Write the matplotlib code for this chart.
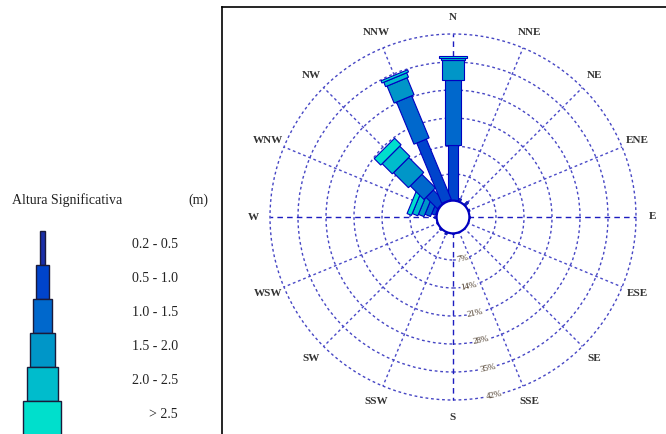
import matplotlib
matplotlib.use("Agg")
import matplotlib.pyplot as plt
import numpy as np
from matplotlib.patches import Circle, Polygon, Rectangle

# --- data (percent of occurrence per direction and wave height class) ---
directions = ['N', 'NNE', 'NE', 'ENE', 'E', 'ESE', 'SE', 'SSE',
              'S', 'SSW', 'SW', 'WSW', 'W', 'WNW', 'NW', 'NNW']
classes = ['0.2 - 0.5', '0.5 - 1.0', '1.0 - 1.5', '1.5 - 2.0', '2.0 - 2.5', '> 2.5']

h_02_05 = [0.5, 1.2, 1.5, 0.8, 0.4, 0.3, 0.3, 0.5, 0.6, 1.0, 0.8, 0.6, 0.9, 0.5, 0.5, 0.5]
h_05_10 = [13.8, 0, 0, 0, 0, 0, 0, 0, 0, 0, 0, 0, 0, 1.0, 4.0, 16.3]
h_10_15 = [16.2, 0, 0, 0, 0, 0, 0, 0, 0, 0, 0, 0, 0, 1.5, 4.8, 11.4]
h_15_20 = [5.0, 0, 0, 0, 0, 0, 0, 0, 0, 0, 0, 0, 0, 1.5, 5.3, 4.6]
h_20_25 = [0.6, 0, 0, 0, 0, 0, 0, 0, 0, 0, 0, 0, 0, 1.5, 3.6, 1.2]
h_gt_25 = [0.4, 0, 0, 0, 0, 0, 0, 0, 0, 0, 0, 0, 0, 1.2, 2.3, 0.6]
freqs = [h_02_05, h_05_10, h_10_15, h_15_20, h_20_25, h_gt_25]

rings = [7, 14, 21, 28, 35, 42]
ring_labels = ['7%', '14%', '21%', '28%', '35%', '42%']

colors = ['#1a2fa8', '#0044cc', '#0068cc', '#0096c8', '#00bccc', '#00dfcc']
bar_widths = [0.6, 2.6, 4.1, 5.4, 6.2, 7.2]      # rose bar widths (data units)
leg_widths = [5, 13, 19, 25, 31, 38]             # legend block widths (px)

HOLE = 3.75   # radius of the calm circle
PX = 4.0      # pixels per percent

fig = plt.figure(figsize=(6.66, 4.34), dpi=100, facecolor='white')

# legend area (pixel coordinates)
lax = fig.add_axes([0, 0, 1, 1])
lax.set_xlim(0, 666)
lax.set_ylim(434, 0)
lax.axis('off')

lax.text(12, 200, 'Altura Significativa', fontsize=10, family='Liberation Serif',
         color='#222222', va='center', ha='left')
lax.text(188, 200, '(m)', fontsize=10, family='Liberation Serif',
         color='#222222', va='center', ha='left')
for k, lab in enumerate(classes):
    top = 231 + 34 * k
    w = leg_widths[k]
    lax.add_patch(Rectangle((42 - w / 2, top), w, 34 if k < 5 else 40,
                            facecolor=colors[k], edgecolor='#1a1a3a', lw=1))
    lax.text(178, top + 13, lab, fontsize=10, family='Liberation Serif',
             color='#222222', va='center', ha='right')

# rose area
cx, cy = 453, 217
ax = fig.add_axes([222 / 666, -2 / 434, 446 / 666, 429 / 434])
ax.set_xlim((222 - cx) / PX, (668 - cx) / PX)
ax.set_ylim((-2 - cy) / PX, (427 - cy) / PX)
ax.set_xticks([])
ax.set_yticks([])
for s in ['right', 'bottom']:
    ax.spines[s].set_visible(False)
for s in ['left', 'top']:
    ax.spines[s].set_linewidth(1.2)

for p in rings:
    ax.add_patch(Circle((0, 0), HOLE + p, fill=False, ls=(0, (2, 2)),
                        color='#4646c4', lw=1.0, zorder=1))

theta = np.deg2rad(np.arange(16) * 22.5)
for i, d in enumerate(directions):
    ux, uy = np.sin(theta[i]), np.cos(theta[i])
    r_out = HOLE + rings[-1]
    if i % 4 == 0:
        ax.plot([HOLE * ux, r_out * ux], [HOLE * uy, r_out * uy],
                color='#1c1cc0', ls=(0, (4, 3)), lw=1.0, zorder=1)
    else:
        ax.plot([HOLE * ux, r_out * ux], [HOLE * uy, r_out * uy],
                color='#4a4ac8', ls=(0, (2, 2)), lw=1.0, zorder=1)
    ax.text(50 * ux, 50 * uy, d, fontsize=8, family='Liberation Serif',
            fontweight='bold', color='#333333', ha='center', va='center')

    # stacked bars
    r0 = HOLE
    vx, vy = uy, -ux
    for k in range(len(classes)):
        f = freqs[k][i]
        if f <= 0:
            continue
        r1 = r0 + f
        hw = bar_widths[k] / 2
        pts = [(r0 * ux + hw * vx, r0 * uy + hw * vy),
               (r1 * ux + hw * vx, r1 * uy + hw * vy),
               (r1 * ux - hw * vx, r1 * uy - hw * vy),
               (r0 * ux - hw * vx, r0 * uy - hw * vy)]
        ax.add_patch(Polygon(pts, closed=True, facecolor=colors[k],
                             edgecolor='#0000c0', lw=0.8 if k else 0.5, zorder=3))
        r0 = r1

ax.add_patch(Circle((0, 0), HOLE + 0.35, facecolor='white', edgecolor='#0000c0',
                    lw=1.6, zorder=4))

lab_ang = np.deg2rad(167)
for p, lab in zip(rings, ring_labels):
    r = HOLE + p
    ax.text(r * np.sin(lab_ang), r * np.cos(lab_ang), lab, fontsize=6.5,
            family='Liberation Serif', color='#443322', rotation=12,
            ha='center', va='center', zorder=2,
            bbox=dict(boxstyle='square,pad=0.05', fc='white', ec='none'))

fig.savefig('out.png', dpi=100, facecolor='white')
